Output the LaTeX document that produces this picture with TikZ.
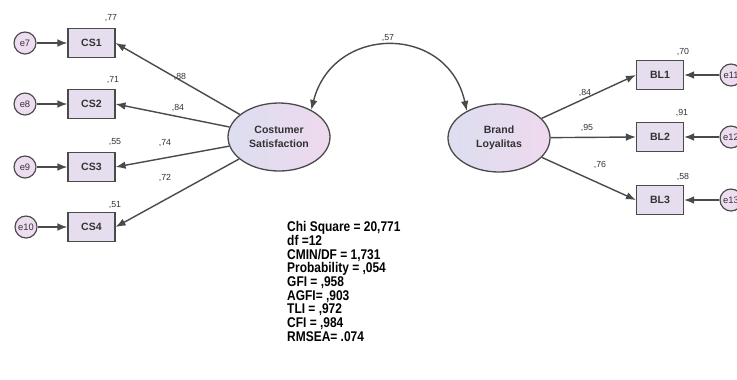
\documentclass[tikz,border=0pt]{standalone}
\usepackage{fontspec}
\setmainfont{Liberation Sans}
\newfontfamily\narrowfont[FakeStretch=0.85]{Liberation Sans}
\usetikzlibrary{shapes.geometric, arrows.meta, positioning}
\definecolor{boxfill}{HTML}{E6DEEE}
\definecolor{edgegray}{HTML}{4A4A4A}
\definecolor{latentleft}{HTML}{DCDEF0}
\definecolor{latentright}{HTML}{EFD9EE}
\definecolor{errfill}{HTML}{EEDDF0}
\definecolor{txtgray}{HTML}{333333}
\tikzset{
    indicator/.style={
        rectangle, draw=edgegray, line width=1pt,
        minimum width=1.41cm, minimum height=0.85cm,
        fill=boxfill, font=\fontsize{9}{10}\selectfont\bfseries, text=txtgray
    },
    latent/.style={
        ellipse, draw=edgegray, line width=1.1pt,
        minimum width=3.06cm, minimum height=2.04cm,
        left color=latentleft, right color=latentright,
        font=\fontsize{9}{12}\selectfont\bfseries, text=txtgray, align=center
    },
    errorterm/.style={
        circle, draw=edgegray, line width=1pt,
        minimum size=0.66cm, inner sep=0pt,
        fill=errfill, font=\fontsize{8}{9}\selectfont, text=txtgray
    },
    loading/.style={draw=edgegray, line width=1.2pt, -{Latex[length=8.5pt,width=6.5pt]}},
    covar/.style={draw=edgegray, line width=1.2pt, {Latex[length=8.5pt,width=6.5pt]}-{Latex[length=8.5pt,width=6.5pt]}},
    weight/.style={font=\fontsize{7.5}{8}\selectfont, text=txtgray, inner sep=1pt},
    fitstat/.style={font=\narrowfont\fontsize{12}{11.65}\selectfont\bfseries, text=black, align=left, inner sep=0pt}
}

\begin{document}
\begin{tikzpicture}[x=0.03cm, y=-0.03cm]
\useasboundingbox (0,0) rectangle (737,379);

% Error terms (left)
\node[errorterm] (e7) at (25,43) {e7};
\node[errorterm] (e8) at (25,104) {e8};
\node[errorterm] (e9) at (25,167) {e9};
\node[errorterm] (e10) at (26,227) {e10};

% Indicators Costumer Satisfaction
\node[indicator] (cs1) at (91.5,43) {CS1};
\node[indicator] (cs2) at (91.5,104) {CS2};
\node[indicator] (cs3) at (91.5,167) {CS3};
\node[indicator] (cs4) at (91.5,227) {CS4};

\draw[loading] (e7) -- (cs1);
\draw[loading] (e8) -- (cs2);
\draw[loading] (e9) -- (cs3);
\draw[loading] (e10) -- (cs4);

% Latent variables
\node[latent] (cs) at (279,137) {Costumer\\Satisfaction};
\node[latent] (bl) at (499,138) {Brand\\Loyalitas};

\draw[loading] (cs) -- (cs1.east);
\draw[loading] (cs) -- (cs2.east);
\draw[loading] (cs) -- (cs3.east);
\draw[loading] (cs) -- (cs4.east);

% Indicators Brand Loyalitas
\node[indicator] (bl1) at (660,75) {BL1};
\node[indicator] (bl2) at (660,137) {BL2};
\node[indicator] (bl3) at (660,200) {BL3};

\node[errorterm] (e11) at (731,75) {e11};
\node[errorterm] (e12) at (731,137) {e12};
\node[errorterm] (e13) at (731,200) {e13};

\draw[loading] (bl) -- (bl1.west);
\draw[loading] (bl) -- (bl2.west);
\draw[loading] (bl) -- (bl3.west);
\draw[loading] (e11) -- (bl1);
\draw[loading] (e12) -- (bl2);
\draw[loading] (e13) -- (bl3);

% Correlation
\draw[covar] (cs.40) .. controls (333,24) and (448,24) .. (bl.140);
\node[weight] (r57) at (388,38) {,57};

% Squared multiple correlations
\node[weight] (r77) at (111,18) {,77};
\node[weight] (r71) at (113,80) {,71};
\node[weight] (r55) at (115,142) {,55};
\node[weight] (r51) at (115,205) {,51};
\node[weight] (r70) at (683,52) {,70};
\node[weight] (r91) at (682,113) {,91};
\node[weight] (r58) at (683,177) {,58};

% Loadings
\node[weight] (l88) at (180,77) {,88};
\node[weight] (l84) at (178,108) {,84};
\node[weight] (l74) at (165,143) {,74};
\node[weight] (l72) at (165,178) {,72};
\node[weight] (m84) at (585,93) {,84};
\node[weight] (m95) at (587,128) {,95};
\node[weight] (m76) at (600,165) {,76};

% Fit indices
\node[fitstat, anchor=north west] (fit) at (287,221.5) {Chi Square = 20,771\\df =12\\CMIN/DF = 1,731\\Probability = ,054\\GFI = ,958\\AGFI= ,903\\TLI = ,972\\CFI = ,984\\RMSEA= .074};

\end{tikzpicture}
\end{document}
